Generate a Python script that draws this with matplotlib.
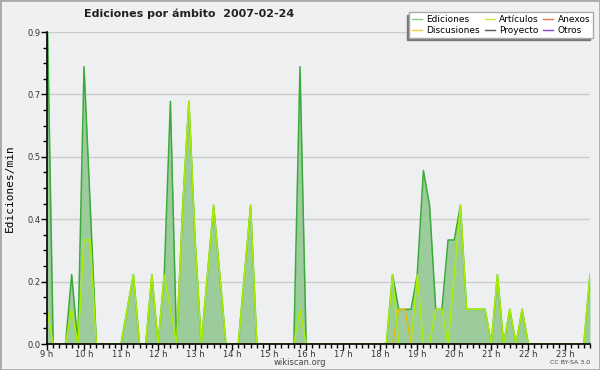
import numpy as np
import matplotlib
matplotlib.use("Agg")
import matplotlib.pyplot as plt
from matplotlib.lines import Line2D
from matplotlib.patches import Rectangle

# edits per minute, one value per 10 minutes from 9:00 to 23:40
ediciones = [1.0, 0, 0, 0, 0.2, 0, 0.8, 0.4, 0, 0, 0, 0,
             0, 0.1, 0.2, 0, 0, 0.2, 0, 0.2, 0.7, 0, 0.4, 0.7,
             0.3, 0, 0.2, 0.4, 0.2, 0, 0, 0, 0.2, 0.4, 0, 0,
             0, 0, 0, 0, 0, 0.8, 0, 0, 0, 0, 0, 0,
             0, 0, 0, 0, 0, 0, 0, 0, 0.2, 0.1, 0.1, 0.1,
             0.2, 0.5, 0.4, 0.1, 0.1, 0.3, 0.3, 0.4, 0.1, 0.1, 0.1, 0.1,
             0, 0.2, 0, 0.1, 0, 0.1, 0, 0, 0, 0, 0, 0,
             0, 0, 0, 0, 0.2]
articulos = [0.1, 0, 0, 0, 0.1, 0, 0.3, 0.3, 0, 0, 0, 0,
             0, 0.1, 0.2, 0, 0, 0.2, 0, 0.2, 0.1, 0, 0.4, 0.7,
             0.3, 0, 0.2, 0.4, 0.2, 0, 0, 0, 0.2, 0.4, 0, 0,
             0, 0, 0, 0, 0, 0.1, 0, 0, 0, 0, 0, 0,
             0, 0, 0, 0, 0, 0, 0, 0, 0.2, 0, 0, 0,
             0.2, 0, 0, 0.1, 0.1, 0, 0.2, 0.4, 0.1, 0.1, 0.1, 0.1,
             0, 0.2, 0, 0.1, 0, 0.1, 0, 0, 0, 0, 0, 0,
             0, 0, 0, 0, 0.2]
discusiones = [0] * 89
discusiones[57] = 0.1
discusiones[58] = 0.1

hour_labels = ["%d h" % h for h in range(9, 24)]
y_ticks = [0, 0.18, 0.36, 0.54, 0.72, 0.9]

t = 9 + np.arange(len(ediciones)) / 6.0

fig = plt.figure(figsize=(6, 3.7), dpi=100, facecolor="#f0f0f0")
ax = fig.add_axes([47 / 600, 1 - 344 / 370, 543 / 600, 312 / 370])
ax.set_facecolor("#eeeff0")

ax.fill_between(t, 0, ediciones, color="#9ccb9c", lw=0)
ax.plot(t, ediciones, color="#3aaa3a", lw=1.1)
ax.plot(t, discusiones, color="#f0b800", lw=1.0)
ax.plot(t, articulos, color="#aaee00", lw=1.1)

ax.set_xlim(t[0], t[-1])
ax.set_ylim(0, 0.9)

ax.set_xticks(range(9, 24))
ax.set_xticklabels(hour_labels)
ax.set_xticks(t, minor=True)
ax.set_yticks(y_ticks)
ax.set_yticklabels(["%.1f" % v for v in y_ticks])
ax.set_yticks(np.arange(0, 0.91, 0.045), minor=True)
ax.yaxis.grid(True, color="#cccccc", lw=1)
ax.set_axisbelow(True)

for s in ["top", "right"]:
    ax.spines[s].set_visible(False)
ax.spines["left"].set_linewidth(1.2)
ax.spines["bottom"].set_linewidth(1.2)
ax.tick_params(which="major", length=4, width=1, labelsize=6, labelcolor="#333333", pad=0.5)
ax.tick_params(which="minor", length=3, width=1)

ax.set_ylabel("Ediciones/min", family="DejaVu Sans Mono", fontsize=8, labelpad=9)

fig.text(0.315, 0.962, "Ediciones por ámbito  2007-02-24", ha="center", va="center",
         fontsize=8, weight="bold", color="#222222")
fig.text(0.5, 1 - 362.5 / 370, "wikiscan.org", ha="center", va="center", fontsize=6, color="#444444")
fig.text(590 / 600, 1 - 363 / 370, "CC BY-SA 3.0", ha="right", va="center", fontsize=4.5, color="#444444")

names = ["Ediciones", "Discusiones", "Artículos", "Proyecto", "Anexos", "Otros"]
colors = ["#88cc88", "#eecc44", "#ccee44", "#555555", "#ee7744", "#8844dd"]
handles = [Line2D([], [], color=c, lw=1) for c in colors]
leg = ax.legend(handles, names, ncol=3, loc="upper right", bbox_to_anchor=(593 / 600, 1 - 12 / 370),
                bbox_transform=fig.transFigure, borderaxespad=0, fontsize=6.5, frameon=True,
                fancybox=False, handlelength=1.1, handletextpad=0.5, columnspacing=0.5,
                labelspacing=0.25, borderpad=0.3,
                shadow={"ox": -2, "oy": -2, "color": "#777777", "alpha": 1})
leg.get_frame().set_edgecolor("#aaaaaa")
leg.get_frame().set_facecolor("white")
leg.get_frame().set_alpha(1)

fig.patches.append(Rectangle((0, 0), 1, 1, transform=fig.transFigure, fill=False,
                             edgecolor="#aaaaaa", lw=2))

fig.savefig("out.png", dpi=100, facecolor=fig.get_facecolor())
